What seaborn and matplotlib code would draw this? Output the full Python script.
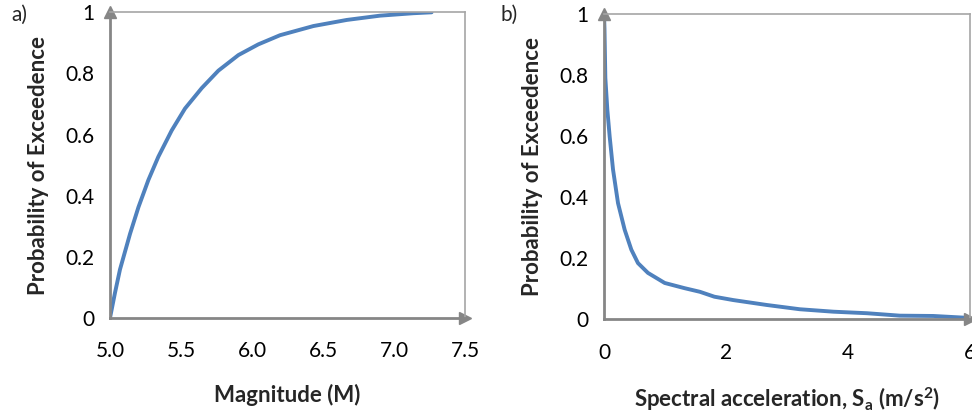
import numpy as np
import pandas as pd
import seaborn as sns
import matplotlib.pyplot as plt

# panel a: magnitude curve
mag = [5.0, 5.035, 5.070, 5.141, 5.2, 5.27, 5.34, 5.434, 5.528, 5.646, 5.763, 5.904, 6.044,
       6.197, 6.432, 6.667, 6.901, 7.136, 7.265]
prob_a = [0.0, 0.082, 0.158, 0.275, 0.362, 0.451, 0.527, 0.613, 0.685, 0.752, 0.809, 0.860,
          0.895, 0.925, 0.955, 0.975, 0.989, 0.997, 1.0]

# panel b: spectral acceleration curve
sa = [0.0, 0.008, 0.022, 0.055, 0.093, 0.148, 0.23, 0.339, 0.448, 0.557, 0.72, 0.995, 1.32,
      1.574, 1.81, 2.12, 2.667, 3.21, 3.76, 4.31, 4.85, 5.4, 5.95, 6.0]
prob_b = [1.0, 0.95, 0.79, 0.685, 0.598, 0.49, 0.38, 0.293, 0.228, 0.184, 0.152, 0.119, 0.102,
          0.090, 0.074, 0.063, 0.047, 0.033, 0.025, 0.020, 0.012, 0.011, 0.005, 0.004]

df_a = pd.DataFrame({"x": mag, "p": prob_a})
df_b = pd.DataFrame({"x": sa, "p": prob_b})

sns.set_style("white")
plt.rcParams['font.family'] = ['Lato', 'DejaVu Sans']
plt.rcParams['mathtext.fontset'] = 'custom'
plt.rcParams['mathtext.rm'] = 'Lato'
plt.rcParams['mathtext.bf'] = 'Lato:bold'
plt.rcParams['mathtext.it'] = 'Lato:italic'

line_col = '#4F81BD'
axis_col = '#868686'

fig = plt.figure(figsize=(9.72, 4.13), dpi=100)
ax1 = fig.add_axes([0.1132, 0.2305, 0.3652, 0.7397])
ax2 = fig.add_axes([0.6214, 0.2268, 0.3765, 0.7400])

sns.lineplot(data=df_a, x="x", y="p", ax=ax1, color=line_col, linewidth=2.8)
sns.lineplot(data=df_b, x="x", y="p", ax=ax2, color=line_col, linewidth=2.8)


def style(ax, xticks, xlabels, xlab):
    ax.set_xlim(xticks[0], xticks[-1])
    ax.set_ylim(0, 1)
    ax.set_xticks(xticks)
    ax.set_xticklabels(xlabels)
    ax.set_yticks([0, 0.2, 0.4, 0.6, 0.8, 1])
    ax.set_yticklabels(["0", "0.2", "0.4", "0.6", "0.8", "1"])
    ax.tick_params(axis='both', direction='out', length=5, width=1.5, color=axis_col,
                   labelsize=15, labelcolor='black', pad=6)
    ax.tick_params(axis='x', pad=12)
    for s in ['left', 'bottom']:
        ax.spines[s].set_color(axis_col)
        ax.spines[s].set_linewidth(2)
    for s in ['top', 'right']:
        ax.spines[s].set_color('#A6A6A6')
        ax.spines[s].set_linewidth(1.2)
    ax.set_xlabel(xlab, fontsize=16, fontweight='bold', labelpad=16)
    ax.set_ylabel("Probability of Exceedence", fontsize=16, fontweight='bold', labelpad=12)
    # arrowheads on the axes
    ax.plot(0, 1, marker='^', color=axis_col, markersize=9, transform=ax.transAxes, clip_on=False)
    ax.plot(1, 0, marker='>', color=axis_col, markersize=9, transform=ax.transAxes, clip_on=False)


style(ax1, [5.0, 5.5, 6.0, 6.5, 7.0, 7.5], ["5.0", "5.5", "6.0", "6.5", "7.0", "7.5"], "Magnitude (M)")
style(ax2, [0, 2, 4, 6], ["0", "2", "4", "6"],
      r"Spectral acceleration, $\mathbf{S_a}$ (m/s$^\mathbf{2}$)")

fig.text(0.012, 0.95, "a)", fontsize=15)
fig.text(0.515, 0.95, "b)", fontsize=15)

fig.savefig("out.png", dpi=100)
